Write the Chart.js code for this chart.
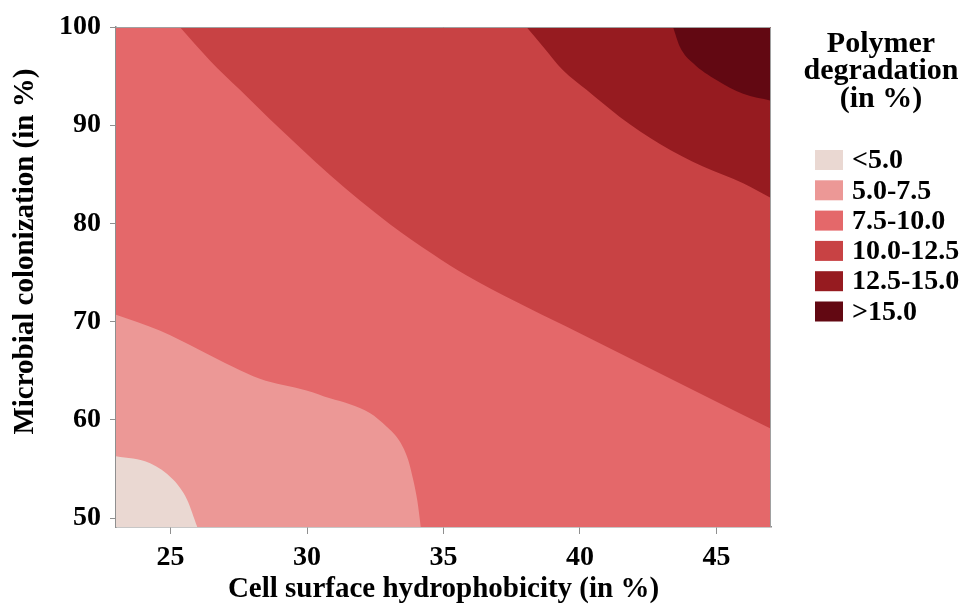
<!DOCTYPE html>
<html>
<head>
<meta charset="utf-8">
<script src="https://cdn.jsdelivr.net/npm/chart.js@4/dist/chart.umd.min.js"></script>
<style>
html,body{margin:0;padding:0;background:#ffffff;}
#wrap{width:965px;height:608px;position:relative;}
</style>
</head>
<body>
<div id="wrap"><canvas id="c" width="965" height="608"></canvas></div>
<script>
// ---- axis ranges and ticks ----
const xMin = 23, xMax = 47;
const yMin = 49.1, yMax = 100;
const xTickStep = 5;
const yTickStep = 10;

// ---- legend bands ----
const bandLabels = ['<5.0', '5.0-7.5', '7.5-10.0', '10.0-12.5', '12.5-15.0', '>15.0'];
const bandColors = ['#ead8d2', '#ec9896', '#e4686a', '#c84244', '#961b20', '#620812'];

// ---- contour lines (x = hydrophobicity %, y = colonization %) ----
// 5.0 % contour (edge of the "<5.0" band, bottom-left corner)
const c5_X = [23, 24.25, 25.1, 25.6, 25.98];
const c5_Y = [56.3, 55.6, 53.9, 51.9, 49.1];
// 7.5 % contour (edge of the "5.0-7.5" band)
const c75_X = [23, 24.6, 26.08, 27.3, 28.27, 29.98, 30.84, 31.57, 32.3, 32.92, 33.4, 33.71, 33.89, 34.04, 34.17];
const c75_Y = [70.7, 69.1, 67.1, 65.4, 64.2, 63.0, 62.2, 61.6, 60.7, 59.3, 57.8, 55.9, 53.9, 51.8, 49.1];
// 7.5-10.0 band fills the remaining plot area
const base_X = [xMin, xMax];
const base_Y = [yMin, yMin];
// 10.0 % contour
const c10_X = [25.34, 26.44, 27.54, 28.64, 29.75, 30.85, 31.95, 33.05, 34.6, 35.85, 37.68, 39.5, 41.95, 44.4, 47];
const c10_Y = [100, 96.6, 93.6, 90.6, 87.7, 84.9, 82.3, 79.9, 76.9, 74.7, 72.0, 69.5, 66.1, 62.7, 59.1];
// 12.5 % contour
const c125_X = [38.04, 38.65, 39.38, 40.24, 41.46, 42.93, 44.51, 45.98, 47];
const c125_Y = [100, 98.0, 95.6, 93.6, 90.85, 88.1, 85.8, 84.1, 82.6];
// 15.0 % contour
const c15_X = [43.41, 43.66, 44.15, 45.0, 45.98, 47];
const c15_Y = [100, 98.0, 96.3, 94.6, 93.2, 92.5];

const contourX = [c5_X, c75_X, base_X, c10_X, c125_X, c15_X];
const contourY = [c5_Y, c75_Y, base_Y, c10_Y, c125_Y, c15_Y];
const bandFill = ['start', 'start', 'end', 'end', 'end', 'end'];
const bandOrder = [8, 9, 10, 7, 6, 5]; // higher = drawn earlier

const FONT = "'Liberation Serif', 'Times New Roman', Times, serif";
const AXIS_GRAY = '#8f8f8f';

const datasets = bandLabels.map((lab, i) => ({
  label: lab,
  data: contourX[i].map((x, k) => ({ x: x, y: contourY[i][k] })),
  backgroundColor: bandColors[i],
  borderColor: bandColors[i],
  borderWidth: 0,
  pointRadius: 0,
  fill: bandFill[i],
  cubicInterpolationMode: 'monotone',
  order: bandOrder[i]
}));

const framePlugin = {
  id: 'frame',
  afterDatasetsDraw(chart) {
    const a = chart.chartArea, ctx = chart.ctx;
    ctx.save();
    ctx.strokeStyle = '#a0a0a0';
    ctx.lineWidth = 1;
    ctx.beginPath();
    ctx.moveTo(a.left, a.top + 0.5);
    ctx.lineTo(a.right - 0.5, a.top + 0.5);
    ctx.lineTo(a.right - 0.5, a.bottom);
    ctx.stroke();
    ctx.restore();
  }
};

const legendTitle = ['Polymer', 'degradation', '(in %)'];
const bandLegendPlugin = {
  id: 'bandLegend',
  afterDraw(chart) {
    const ctx = chart.ctx;
    const a = chart.chartArea;
    ctx.save();
    ctx.fillStyle = '#000';
    ctx.textAlign = 'center';
    ctx.textBaseline = 'middle';
    ctx.font = 'bold 30px ' + FONT;
    legendTitle.forEach((t, i) => ctx.fillText(t, a.right + 110, 44 + i * 27.5));
    ctx.textAlign = 'left';
    ctx.font = 'bold 28px ' + FONT;
    bandLabels.forEach((lab, i) => {
      const cy = 160 + i * 30.3;
      ctx.fillStyle = bandColors[i];
      ctx.fillRect(a.right + 44, cy - 10, 28, 20);
      ctx.fillStyle = '#000';
      ctx.fillText(lab, a.right + 81, cy + 1);
    });
    ctx.restore();
  }
};

new Chart(document.getElementById('c'), {
  type: 'line',
  data: { datasets: datasets },
  options: {
    responsive: false,
    animation: false,
    devicePixelRatio: 1,
    layout: { padding: { top: 27, right: 194, bottom: 0, left: 0 } },
    plugins: {
      legend: { display: false },
      tooltip: { enabled: false }
    },
    elements: { line: { borderWidth: 0 } },
    scales: {
      x: {
        type: 'linear',
        position: 'bottom',
        min: xMin, max: xMax,
        ticks: {
          stepSize: xTickStep, includeBounds: false,
          color: '#000', padding: 7,
          font: { family: FONT, size: 28, weight: 'bold' }
        },
        grid: { display: true, drawOnChartArea: false, drawTicks: true, tickLength: 7, color: AXIS_GRAY },
        border: { display: true, color: AXIS_GRAY, width: 1.5 },
        title: {
          display: true, text: 'Cell surface hydrophobicity (in %)', color: '#000',
          font: { family: FONT, size: 29, weight: 'bold' },
          padding: { top: 0, bottom: 1 }
        },
        afterFit(s) { s.height = 81; }
      },
      y: {
        type: 'linear',
        position: 'left',
        min: yMin, max: yMax,
        ticks: {
          stepSize: yTickStep, includeBounds: false,
          color: '#000', padding: 9,
          font: { family: FONT, size: 28, weight: 'bold' }
        },
        grid: { display: true, drawOnChartArea: false, drawTicks: true, tickLength: 6, color: AXIS_GRAY },
        border: { display: true, color: AXIS_GRAY, width: 1.5 },
        title: {
          display: true, text: '       Microbial colonization (in %)', color: '#000',
          font: { family: FONT, size: 29, weight: 'bold' },
          padding: { top: 8, bottom: 0 }
        },
        afterFit(s) { s.width = 116; }
      }
    }
  },
  plugins: [framePlugin, bandLegendPlugin]
});
</script>
</body>
</html>
